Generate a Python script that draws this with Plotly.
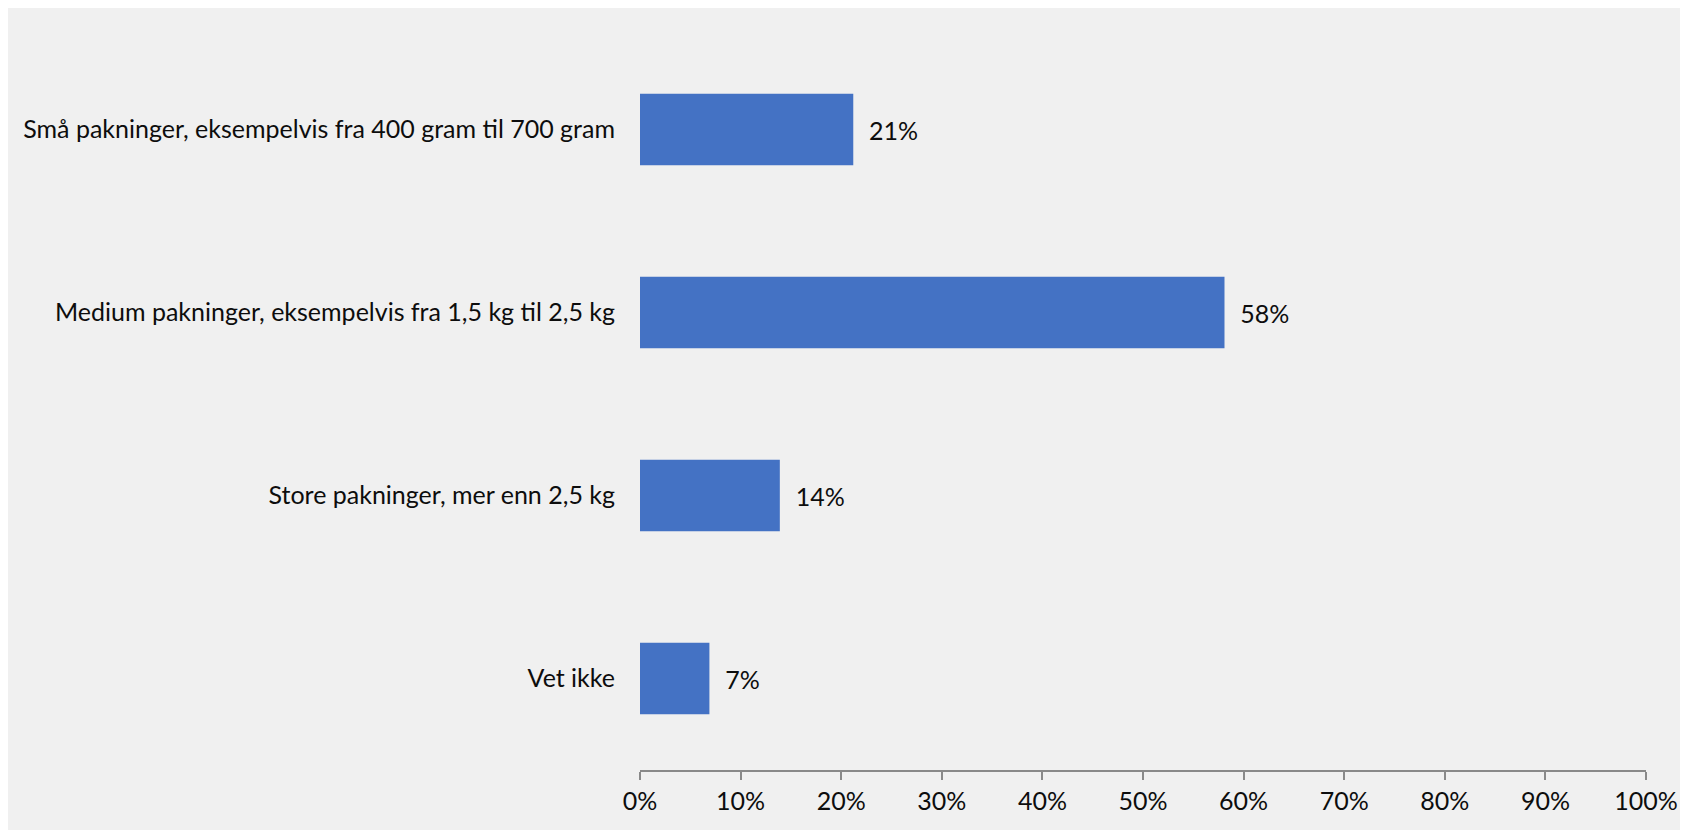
import plotly.graph_objects as go

categories = [
    "Små pakninger, eksempelvis fra 400 gram til 700 gram",
    "Medium pakninger, eksempelvis fra 1,5 kg til 2,5 kg",
    "Store pakninger, mer enn 2,5 kg",
    "Vet ikke",
]
values = [0.212, 0.581, 0.139, 0.069]
labels = ["21%", "58%", "14%", "7%"]
tick_vals = [0, 0.1, 0.2, 0.3, 0.4, 0.5, 0.6, 0.7, 0.8, 0.9, 1.0]
tick_text = ["0%", "10%", "20%", "30%", "40%", "50%", "60%", "70%", "80%", "90%", "100%"]

FONT = "Lato"
GREY = "#F0F0F0"
TXT = "#0d0d0d"

fig = go.Figure()
fig.add_trace(go.Bar(
    x=values,
    y=categories,
    orientation="h",
    marker=dict(color="#4472C4", line=dict(width=0)),
    width=0.39,
    text=["  " + t for t in labels],
    textposition="outside",
    textfont=dict(family=FONT, size=25, color=TXT),
    cliponaxis=False,
    hoverinfo="skip",
))

fig.update_layout(
    width=1688,
    height=830,
    paper_bgcolor=GREY,
    plot_bgcolor=GREY,
    margin=dict(l=632, r=50, t=30, b=68, autoexpand=False),
    showlegend=False,
    font=dict(family=FONT, size=25, color=TXT),
    xaxis=dict(
        range=[0, 1],
        tickvals=tick_vals,
        ticktext=tick_text,
        showgrid=False,
        zeroline=False,
        showline=True,
        linecolor="#898989",
        linewidth=1.5,
        ticks="outside",
        ticklen=8,
        tickwidth=1.5,
        tickcolor="#898989",
        tickfont=dict(family=FONT, size=25, color=TXT),
        fixedrange=True,
    ),
    yaxis=dict(
        categoryorder="array",
        categoryarray=categories,
        autorange="reversed",
        showgrid=False,
        zeroline=False,
        showline=False,
        ticks="",
        ticklabelstandoff=24,
        tickfont=dict(family=FONT, size=25, color=TXT),
        fixedrange=True,
    ),
)

fig.write_html("out.html")
